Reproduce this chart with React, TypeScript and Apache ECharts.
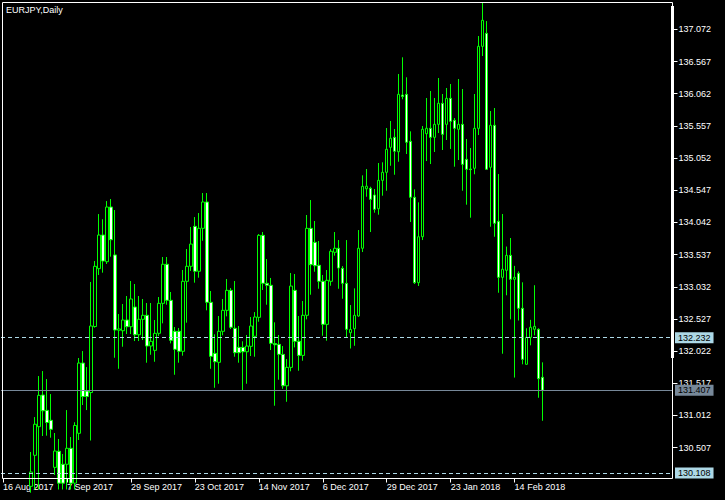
import React, { useEffect, useRef } from "react";
import * as echarts from "echarts";

// ---- data (daily EURJPY candles, first visible bar is index 7 of the axis) ----
const firstBar = 7;
const startDate = "2017-08-16";
const holidays = ["2017-12-25", "2018-01-01"];
const categoryCount = 168;
const labelEvery = 16;
const lastLabelIndex = 128;

const opens = [
  129.9, 130.387, 130.836, 131.333, 131.092, 130.936, 130.198, 130.45, 130.246, 130.246,
  130.497, 129.95, 130.732, 131.835, 131.395, 131.372, 132.408, 133.316, 133.844, 133.425,
  134.283, 133.531, 132.35, 132.342, 132.51, 132.405, 132.714, 132.279, 132.521, 132.584,
  132.102, 132.034, 132.301, 132.772, 133.385, 132.819, 132.333, 132.333, 132.019, 133.118,
  133.353, 133.98, 133.275, 133.949, 134.362, 132.788, 131.987, 131.846, 132.333, 132.662,
  132.976, 132.38, 132.081, 132.081, 132.012, 132.097, 132.254, 132.552, 133.839, 133.086,
  133.055, 132.141, 132.128, 131.971, 131.478, 131.767, 132.976, 132.176, 131.955, 132.584,
  133.949, 133.729, 133.369, 133.118, 132.442, 133.118, 133.573, 133.636, 133.321, 133.086,
  132.311, 132.374, 132.573, 133.636, 134.57, 134.577, 134.472, 134.257, 134.702, 134.828,
  135.22, 135.377, 135.151, 136.041, 136.052, 135.315, 134.436, 133.096, 133.817, 135.434,
  135.519, 135.377, 135.581, 135.911, 135.581, 135.989, 135.644, 135.503, 135.581, 135.032,
  134.88, 134.891, 135.518, 136.805, 137.009, 134.907, 135.566, 134.059, 133.18, 133.29,
  133.525, 133.149, 133.243, 132.694, 131.815, 132.238, 132.364, 132.364, 131.611,
];
const closes = [
  130.125, 130.874, 131.328, 131.086, 130.902, 130.795, 130.454, 129.95, 129.95, 130.497,
  129.95, 130.855, 131.835, 131.309, 131.309, 132.416, 133.353, 133.844, 133.436, 134.283,
  133.77, 132.353, 132.37, 132.51, 132.405, 132.84, 132.279, 132.521, 132.584, 132.102,
  132.176, 132.301, 132.772, 133.385, 132.819, 132.191, 132.05, 132.019, 133.118, 133.353,
  133.702, 133.275, 133.949, 134.362, 132.788, 131.94, 131.855, 132.333, 132.662, 132.976,
  132.396, 131.997, 131.997, 132.012, 132.102, 132.416, 132.557, 133.839, 133.086, 133.055,
  132.144, 132.122, 131.971, 131.478, 131.767, 133.043, 132.176, 131.955, 132.584, 133.949,
  133.378, 133.362, 133.118, 132.442, 133.133, 133.589, 133.636, 133.326, 133.086, 132.364,
  132.361, 132.584, 133.636, 134.608, 134.61, 134.404, 134.247, 134.702, 134.828, 135.189,
  135.362, 135.158, 136.052, 136.017, 135.299, 134.436, 133.096, 133.817, 135.503, 135.519,
  135.377, 135.581, 135.911, 135.424, 135.989, 135.628, 135.518, 135.581, 134.953, 134.875,
  134.87, 135.518, 136.805, 137.213, 134.875, 135.566, 134.028, 133.18, 133.306, 133.525,
  133.149, 133.18, 132.694, 131.893, 132.238, 132.396, 132.411, 131.589, 131.407,
];
const lows = [
  129.8, 129.85, 129.85, 130.69, 130.695, 130.663, 130.078, 129.85, 129.85, 129.85,
  129.85, 129.85, 130.627, 131.176, 131.097, 130.619, 132.39, 133.217, 133.253, 133.389,
  133.504, 131.918, 131.745, 132.091, 132.29, 132.29, 132.18, 132.18, 132.196, 131.84,
  131.965, 131.855, 132.259, 132.458, 132.75, 132.144, 131.651, 131.84, 131.95, 132.468,
  133.28, 133.096, 133.174, 133.754, 132.662, 131.745, 131.447, 131.51, 132.27, 132.568,
  132.369, 131.934, 131.84, 131.406, 131.51, 131.945, 131.934, 132.483, 132.981, 132.75,
  132.039, 131.165, 131.573, 131.431, 131.227, 131.705, 132.081, 131.714, 131.871, 132.521,
  132.907, 133.268, 133.001, 132.263, 132.185, 133.048, 133.52, 133.001, 132.844, 132.243,
  132.063, 132.106, 132.562, 133.577, 134.445, 133.891, 134.194, 134.163, 134.461, 134.539,
  134.931, 134.79, 134.994, 135.974, 135.115, 134.048, 133.075, 133.044, 133.765, 135.005,
  134.958, 135.147, 135.445, 135.178, 135.335, 135.194, 134.916, 135.021, 134.539, 134.32,
  134.116, 134.797, 135.413, 136.653, 134.864, 133.974, 133.817, 132.938, 131.981, 132.898,
  132.521, 131.607, 132.502, 131.815, 131.81, 132.113, 132.27, 131.29, 130.929,
];
const highs = [
  130.439, 130.987, 131.631, 131.709, 131.584, 131.348, 130.737, 130.643, 130.407, 131.097,
  130.674, 130.906, 131.914, 132.023, 131.772, 133.107, 133.436, 134.173, 134.091, 134.377,
  134.409, 134.236, 132.604, 132.761, 132.887, 133.122, 133.075, 132.887, 132.84, 132.777,
  132.777, 132.51, 132.871, 133.499, 133.499, 132.95, 132.4, 132.385, 133.295, 133.624,
  133.97, 134.126, 134.189, 134.503, 134.503, 132.965, 132.286, 132.573, 132.84, 133.154,
  133.012, 133.122, 132.416, 132.176, 132.275, 132.557, 132.635, 133.859, 133.891, 133.467,
  133.17, 132.474, 132.275, 132.102, 131.898, 133.248, 133.232, 132.573, 132.808, 134.158,
  134.393, 134.064, 133.75, 133.217, 133.295, 133.624, 133.891, 133.765, 133.357, 133.765,
  132.745, 133.007, 133.922, 134.781, 134.88, 134.602, 134.566, 134.974, 134.985, 135.523,
  135.633, 135.508, 136.371, 136.633, 136.319, 135.471, 134.561, 134.357, 135.555, 135.994,
  136.104, 135.994, 136.308, 136.057, 136.151, 136.214, 135.68, 136.292, 136.135, 135.351,
  135.209, 136.057, 136.967, 137.49, 137.202, 135.79, 135.837, 134.801, 134.174, 133.663,
  133.797, 133.36, 133.274, 133.102, 132.38, 132.513, 133.056, 132.38, 131.846,
];

const yTicks = [
  137.072, 136.567, 136.062, 135.557, 135.052, 134.547, 134.042,
  133.537, 133.032, 132.527, 132.022, 131.517, 131.012, 130.507,
];
const yMin = 130.023;
const yMax = 137.493;
const priceLines = [132.232, 131.407, 130.108];
const title = "EURJPY,Daily";

const MONTHS = ["Jan", "Feb", "Mar", "Apr", "May", "Jun", "Jul", "Aug", "Sep", "Oct", "Nov", "Dec"];

function tradingDates(start: string, count: number): string[] {
  const out: string[] = [];
  const d = new Date(start + "T00:00:00Z");
  while (out.length < count) {
    const iso = d.toISOString().slice(0, 10);
    const wd = d.getUTCDay();
    if (wd !== 0 && wd !== 6 && holidays.indexOf(iso) < 0) {
      out.push(d.getUTCDate() + " " + MONTHS[d.getUTCMonth()] + " " + d.getUTCFullYear());
    }
    d.setUTCDate(d.getUTCDate() + 1);
  }
  return out;
}

const FONT = "Liberation Sans";

export default function App() {
  const ref = useRef<HTMLDivElement>(null);

  useEffect(() => {
    if (!ref.current) return;
    const chart = echarts.init(ref.current, undefined, { renderer: "svg" });
    const categories = tradingDates(startDate, categoryCount);
    const candles: any[] = [];
    for (let i = 0; i < firstBar; i++) candles.push(["-", "-", "-", "-"]);
    for (let i = 0; i < opens.length; i++) {
      candles.push([opens[i], closes[i], lows[i], highs[i]]);
    }
    const showIdx = (idx: number) => idx % labelEvery === 0 && idx <= lastLabelIndex;

    const lineLabel = (bg: string) => ({
      show: true,
      position: "end",
      distance: 2.5,
      formatter: (p: any) => Number(p.value).toFixed(3),
      backgroundColor: bg,
      color: "#000",
      padding: [1, 3, 1, 3],
      fontSize: 9,
      fontFamily: FONT,
    });

    chart.setOption({
      animation: false,
      backgroundColor: "#000",
      title: {
        text: title,
        left: 6,
        top: 5,
        padding: 0,
        textStyle: { color: "#fff", fontSize: 9, fontWeight: "normal", fontFamily: FONT },
      },
      grid: { left: 0.5, top: 2.5, width: 672, height: 476 },
      xAxis: {
        type: "category",
        data: categories,
        boundaryGap: true,
        axisLine: { show: false },
        axisTick: {
          show: true,
          interval: (idx: number) => showIdx(idx),
          alignWithLabel: true,
          length: 4,
          lineStyle: { color: "#fff" },
        },
        axisLabel: {
          interval: (idx: number) => showIdx(idx),
          color: "#fff",
          align: "left",
          fontSize: 9,
          fontFamily: FONT,
          margin: 4,
        },
        splitLine: { show: false },
      },
      yAxis: {
        type: "value",
        position: "right",
        min: yMin,
        max: yMax,
        axisLine: { show: false },
        axisTick: {
          show: true,
          customValues: yTicks,
          length: 5,
          lineStyle: { color: "#fff" },
        },
        axisLabel: {
          customValues: yTicks,
          color: "#fff",
          fontSize: 9,
          fontFamily: FONT,
          margin: 6,
          formatter: (v: number) => v.toFixed(3),
        },
        splitLine: { show: false },
      },
      graphic: [
        {
          type: "rect",
          shape: { x: 2.5, y: 2.5, width: 670, height: 476 },
          style: { fill: "none", stroke: "#fff", lineWidth: 1 },
          silent: true,
          z: 100,
        },
        {
          type: "rect",
          shape: { x: 671, y: 6, width: 3, height: 352 },
          style: { fill: "#fff" },
          silent: true,
          z: 100,
        },
      ],
      series: [
        {
          type: "candlestick",
          data: candles,
          barWidth: 3,
          clip: true,
          itemStyle: {
            color: "#000",
            color0: "#fff",
            borderColor: "#00ff00",
            borderColor0: "#00ff00",
            borderWidth: 1,
          },
          markLine: {
            silent: true,
            symbol: ["none", "none"],
            precision: 3,
            data: [
              {
                yAxis: priceLines[0],
                lineStyle: { color: "#ADD8E6", type: [4, 3], width: 1 },
                label: lineLabel("#ADD8E6"),
              },
              {
                yAxis: priceLines[1],
                lineStyle: { color: "#778899", type: "solid", width: 1 },
                label: lineLabel("#778899"),
              },
              {
                yAxis: priceLines[2],
                lineStyle: { color: "#ADD8E6", type: [4, 3], width: 1 },
                label: lineLabel("#ADD8E6"),
              },
            ],
          },
        },
      ],
    });
    return () => chart.dispose();
  }, []);

  return (
    <div
      ref={ref}
      style={{ position: "absolute", left: 0, top: 0, width: 725, height: 500 }}
    />
  );
}
